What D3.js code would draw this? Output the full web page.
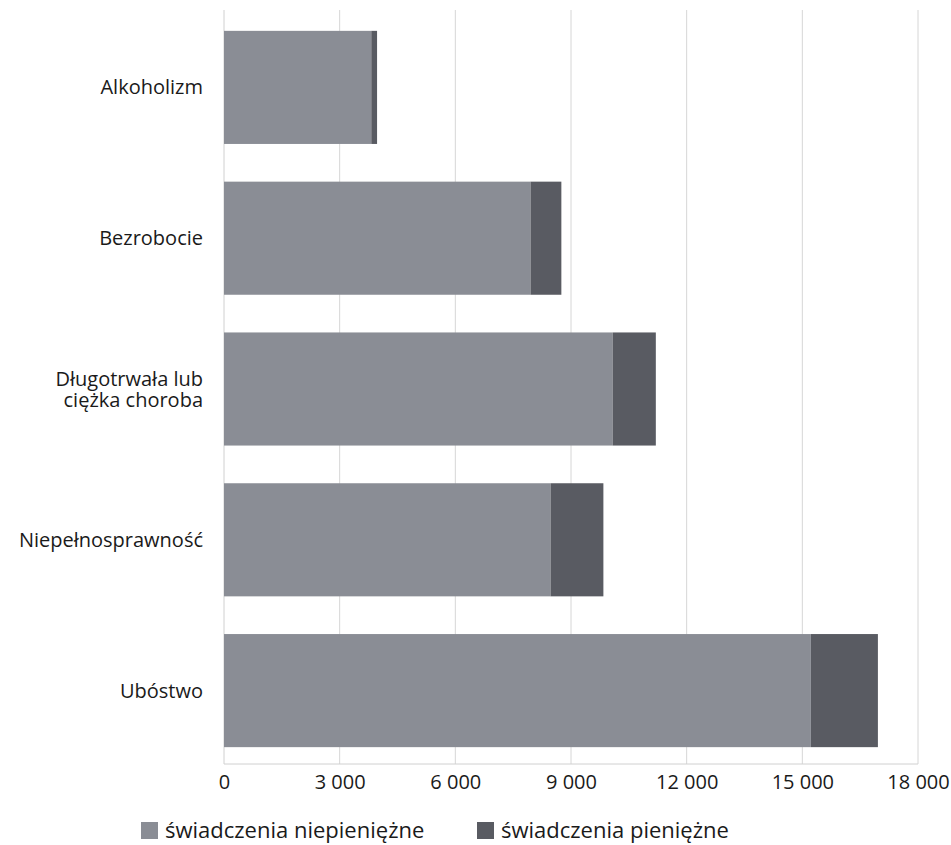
<!DOCTYPE html>
<html>
<head>
<meta charset="utf-8">
<script src="https://cdn.jsdelivr.net/npm/d3@7"></script>
<style>
  html, body { margin: 0; padding: 0; background: #fff; }
  svg text { font-family: "Open Sans", "DejaVu Sans", sans-serif; fill: #1a1a1a; }
</style>
</head>
<body>
<svg id="chart" width="951" height="845"></svg>
<script>
const categories = ["Alkoholizm", "Bezrobocie", "Długotrwała lub\nciężka choroba", "Niepełnosprawność", "Ubóstwo"];
const nonCash = [3820, 7950, 10080, 8470, 15220];
const cash = [150, 800, 1120, 1370, 1740];
const seriesNames = ["świadczenia niepieniężne", "świadczenia pieniężne"];
const xTicks = [0, 3000, 6000, 9000, 12000, 15000, 18000];
const colors = ["#8a8d95", "#595b62"];

const svg = d3.select("#chart");
const x = d3.scaleLinear().domain([0, 18000]).range([224, 918]);
const y = d3.scaleBand().domain(categories).range([12, 766]).paddingInner(0.25).paddingOuter(0.125);
const plotTop = 10, plotBottom = 764;

// gridlines
svg.append("g").selectAll("line").data(xTicks.slice(1)).join("line")
  .attr("x1", d => x(d)).attr("x2", d => x(d))
  .attr("y1", plotTop).attr("y2", plotBottom)
  .attr("stroke", "#d6d6d6").attr("stroke-width", 1);

// left and bottom axis lines
svg.append("line").attr("x1", x(0)).attr("x2", x(0)).attr("y1", plotTop).attr("y2", plotBottom)
  .attr("stroke", "#d0d0d0");
svg.append("line").attr("x1", x(0)).attr("x2", x(18000)).attr("y1", plotBottom).attr("y2", plotBottom)
  .attr("stroke", "#d0d0d0");

const rows = categories.map((c, i) => ({ cat: c, vals: [nonCash[i], cash[i]] }));
const stack = d3.stack().keys([0, 1]).value((d, k) => d.vals[k]);
const stacked = stack(rows);

svg.append("g").selectAll("g").data(stacked).join("g")
  .attr("fill", (d, i) => colors[i])
  .selectAll("rect").data(d => d).join("rect")
  .attr("x", d => x(d[0]))
  .attr("width", d => x(d[1]) - x(d[0]))
  .attr("y", d => y(d.data.cat))
  .attr("height", y.bandwidth());

// x axis labels
const xAxis = d3.axisBottom(x).tickValues(xTicks).tickSize(0).tickPadding(11)
  .tickFormat(v => d3.format(",")(v).replace(/,/g, " "));
const gx = svg.append("g").attr("transform", `translate(0,${plotBottom})`).call(xAxis);
gx.select(".domain").remove();
gx.selectAll("text").attr("font-size", 20).attr("fill", "#1a1a1a")
  .style("font-family", '"Open Sans", sans-serif');

// y axis labels
const yAxis = d3.axisLeft(y).tickSize(0).tickFormat("");
const gy = svg.append("g").attr("transform", `translate(${x(0)},0)`).call(yAxis);
gy.select(".domain").remove();
gy.selectAll(".tick").each(function(d) {
  const lines = d.split("\n");
  const lh = 21;
  lines.forEach((ln, i) => {
    d3.select(this).append("text")
      .attr("x", -21).attr("text-anchor", "end")
      .attr("y", (i - (lines.length - 1) / 2) * lh)
      .attr("dy", "0.35em")
      .attr("font-size", 20).attr("fill", "#1a1a1a")
      .text(ln);
  });
});

// legend
const legend = svg.append("g");
const legendX = [141, 477];
seriesNames.forEach((name, i) => {
  const g = legend.append("g").attr("transform", `translate(${legendX[i]},822)`);
  g.append("rect").attr("width", 17).attr("height", 17).attr("fill", colors[i]);
  g.append("text").attr("x", 24).attr("y", 8.5).attr("dy", "0.35em")
    .attr("font-size", 22).text(name);
});
</script>
</body>
</html>
